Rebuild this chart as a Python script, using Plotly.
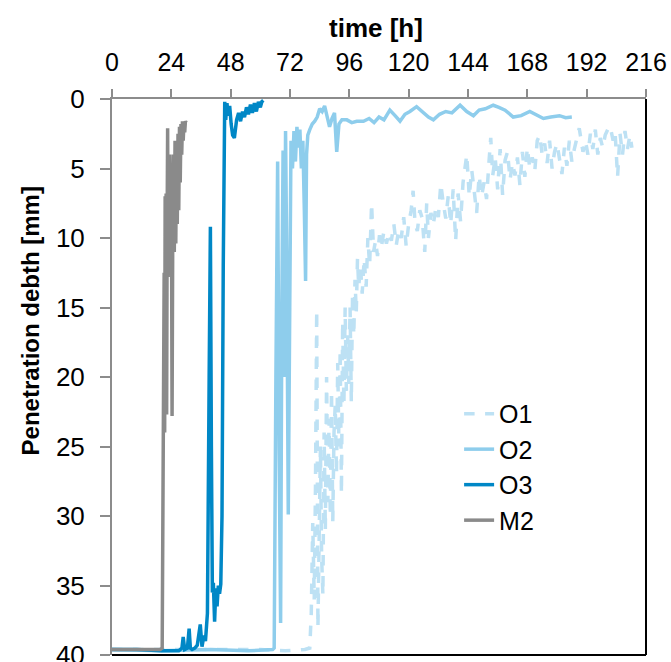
import plotly.graph_objects as go

# ---------------- data ----------------
x_ticks = [0, 24, 48, 72, 96, 120, 144, 168, 192, 216]
y_ticks = [0, 5, 10, 15, 20, 25, 30, 35, 40]

m2_time = [0, 5, 10, 15, 19.5, 20.3, 20.6, 20.9, 21.1, 21.3, 21.5, 21.7, 21.9, 22.1,
           22.3, 22.5, 22.7, 22.9, 23.1, 23.4, 23.7, 24.0, 24.3, 24.6, 24.9, 25.2,
           25.5, 25.8, 26.1, 26.4, 26.7, 27.0, 27.3, 27.6, 27.9, 28.2, 28.5, 28.8,
           29.1, 29.4, 29.7, 30.0]
m2_depth = [39.6, 39.6, 39.6, 39.6, 39.6, 39.5, 29.0, 20.0, 12.5, 24.0, 7.0, 14.0, 6.8, 22.7,
            9.0, 2.1, 12.8, 6.0, 11.0, 4.0, 10.0, 5.0, 22.8, 8.0, 4.0, 11.0,
            3.0, 10.4, 3.2, 9.0, 2.5, 8.0, 2.0, 6.0, 1.8, 4.0, 1.6, 3.0,
            1.7, 2.4, 1.6, 1.7]

o3_time = [0, 10, 20, 27, 28.3, 28.8, 29.4, 30.5, 31.2, 31.7, 32.4, 33.5, 34.5, 35.2,
           35.7, 36.4, 37.2, 37.8, 38.6, 39.3, 39.8, 40.2, 40.6, 41.0, 41.5, 42.0,
           42.5, 43.0, 43.5, 44.0, 44.5, 45.0, 45.3, 45.6, 46.0, 46.5, 47.0, 47.6,
           48.2, 48.8, 49.5, 50.4, 51.2, 52.0, 52.8, 53.6, 54.4, 55.2, 56.0, 56.8,
           57.6, 58.4, 59.2, 60.0, 60.6, 61.2]
o3_depth = [39.6, 39.6, 39.7, 39.7, 39.5, 38.7, 39.6, 39.5, 38.1, 39.5, 39.6, 39.5, 39.3, 38.2,
            37.8, 39.4, 38.6, 39.0, 37.0, 20.0, 9.2, 25.0, 35.5, 34.8, 37.6, 35.2,
            36.5, 35.0, 35.6, 34.9, 30.0, 12.0, 1.0, 0.2, 1.5, 0.3, 1.2, 0.5,
            1.8, 2.6, 2.8, 1.5, 1.0, 1.6, 0.9, 1.3, 0.6, 1.1, 0.4, 1.0,
            0.3, 0.9, 0.2, 0.6, 0.2, 0.1]

o2_time = [0, 20, 40, 55, 65, 65.6, 66.3, 67.0, 67.6, 68.2, 68.7, 69.2, 69.7, 70.2,
           70.7, 71.3, 71.9, 72.4, 73.0, 73.6, 74.2, 74.8, 75.4, 76.0, 76.6, 77.2,
           77.8, 78.3, 78.7, 79.2, 80.0, 81.0, 82.0, 83.0, 84.0, 85.0, 86.0, 87.0,
           88.0, 89.0, 90.0, 90.9, 91.8, 93.0, 95.0, 97.0, 99.0, 101.7, 104.0, 106.0,
           108.0, 110.0, 112.4, 114.5, 116.5, 118.5, 120.5, 123.2, 125.5, 128.0, 130.0,
           132.5, 135.0, 137.5, 140.8, 143.5, 146.2, 148.5, 151.0, 154.2, 156.5, 159.0,
           162.3, 165.5, 169.0, 171.5, 174.5, 177.5, 181.0, 183.5, 186.0]
o2_depth = [39.6, 39.7, 39.6, 39.7, 39.6, 39.5, 20.0, 4.5, 25.0, 37.7, 15.0, 3.7, 20.0, 2.3,
            12.0, 29.9, 15.0, 3.0, 5.0, 2.3, 4.5, 2.0, 3.5, 2.2, 5.0, 3.0,
            8.0, 13.1, 4.0, 2.6, 2.2, 1.8, 1.6, 1.3, 0.7, 0.9, 0.5, 1.4,
            2.0, 1.4, 1.0, 3.8, 1.8, 1.5, 1.5, 1.7, 1.6, 1.6, 1.4, 1.7,
            1.3, 1.5, 0.8, 1.2, 1.6, 1.1, 0.9, 0.55, 0.9, 1.3, 1.5,
            1.1, 0.9, 1.0, 0.45, 0.9, 1.2, 0.8, 0.7, 0.45, 0.6, 0.8,
            1.3, 1.2, 0.9, 1.1, 1.4, 1.3, 1.2, 1.35, 1.3]

o1_time = [0, 20, 40, 60, 70, 78, 80.0, 80.6, 81.2, 81.8, 82.3, 82.8, 83.3, 83.8, 84.3,
           84.8, 85.3, 85.8, 86.3, 86.8, 87.3, 87.8, 88.3, 88.8, 89.3, 89.8, 90.3,
           90.8, 91.3, 91.8, 92.3, 92.8, 93.3, 93.8, 94.3, 94.8, 95.3, 95.8, 96.3,
           96.8, 97.3, 97.8, 98.3, 98.8, 99.3, 99.8, 100.5, 101.2, 102.0, 102.8,
           103.5, 104.2, 105.0, 105.8, 106.6, 107.4, 108.2, 109.0, 110.0, 111.0,
           112.0, 113.0, 114.0, 115.0, 116.0, 117.0, 118.0, 119.0, 120.0, 121.0,
           121.8, 122.6, 123.5, 124.5, 125.5, 126.5, 127.3, 128.0, 129.0, 130.0,
           131.0, 132.0, 133.0, 134.0, 135.0, 136.0, 137.0, 138.0, 139.0, 140.0,
           141.0, 142.0, 143.5, 144.5, 145.5, 146.5, 147.5, 148.5, 149.5, 150.5,
           151.5, 152.5, 153.2, 154.0, 155.0, 156.0, 157.0, 158.0, 159.0, 160.0,
           161.0, 162.0, 163.0, 164.0, 165.0, 166.0, 167.0, 168.0, 169.0, 170.0,
           171.0, 172.0, 173.0, 174.0, 175.0, 176.0, 177.0, 178.0, 179.0, 180.0,
           181.0, 182.0, 183.0, 184.0, 185.0, 186.0, 187.0, 188.0, 189.0, 190.5,
           191.5, 192.5, 193.5, 194.5, 195.5, 196.5, 197.5, 198.5, 199.5, 200.5,
           201.5, 202.7, 203.5, 204.5, 205.5, 206.5, 207.5, 208.5, 209.5, 210.3, 211.0]
o1_depth = [39.6, 39.6, 39.6, 39.6, 39.7, 39.6, 39.5, 37.0, 30.5, 36.0, 28.0, 15.2, 38.0, 30.0, 25.0,
            33.0, 35.7, 24.0, 31.0, 20.0, 29.0, 23.0, 30.0, 21.0, 30.4, 24.0, 22.0,
            27.0, 19.0, 25.0, 18.0, 28.4, 16.0, 22.0, 15.0, 21.0, 17.0, 20.5, 15.0,
            21.8, 14.0, 17.0, 13.0, 15.4, 11.5, 13.5, 12.0, 14.0, 11.5, 13.5,
            10.0, 12.0, 7.5, 11.0, 10.2, 11.3, 9.8, 10.6, 9.5, 10.4, 9.6,
            10.2, 9.0, 10.5, 9.4, 10.0, 8.5, 10.6, 9.0, 8.0, 6.6, 9.0, 9.5,
            8.0, 8.6, 11.0, 7.5, 10.0, 8.2, 9.0, 7.8, 8.5, 6.1, 7.5, 8.6,
            7.0, 9.0, 6.5, 10.2, 6.8, 8.8, 6.0, 4.0, 7.0, 5.1, 6.6, 8.2, 5.5,
            7.0, 6.0, 7.2, 4.5, 2.8, 5.5, 4.2, 6.5, 3.6, 6.9, 4.4, 3.8, 5.8,
            4.6, 5.5, 4.2, 6.2, 3.8, 5.6, 3.5, 5.0, 4.2, 5.2, 3.0, 2.6, 4.0,
            3.2, 4.6, 3.0, 5.0, 3.8, 3.2, 4.4, 5.4, 3.5, 4.8, 3.0, 4.5, 3.6,
            2.8, 2.1, 3.8, 3.0, 4.0, 2.5, 3.6, 2.2, 4.0, 2.8, 3.5, 2.6, 2.2,
            1.95, 3.0, 2.4, 5.6, 2.5, 4.0, 2.3, 3.6, 2.6, 3.5]

series_names = ["O1", "O2", "O3", "M2"]
series_colors = ["#BDE1F4", "#8ECDEC", "#0087C6", "#8A8A8A"]

# ---------------- figure ----------------
fig = go.Figure()
data = [(o1_time, o1_depth), (o2_time, o2_depth), (o3_time, o3_depth), (m2_time, m2_depth)]
dashes = ["dash", "solid", "solid", "solid"]
widths = [3.5, 3.5, 3.5, 3.5]
for i, (name, (t, d)) in enumerate(zip(series_names, data)):
    fig.add_trace(go.Scatter(
        x=t, y=d, mode="lines", name=name, legendgroup=name,
        line=dict(color=series_colors[i], width=widths[i], dash=dashes[i]),
    ))

font_family = "Liberation Sans, Arial, sans-serif"

fig.update_layout(
    width=671, height=662,
    margin=dict(l=112, r=25, t=99, b=7),
    paper_bgcolor="white", plot_bgcolor="white",
    font=dict(family=font_family, size=25, color="black"),
    showlegend=True,
    legend=dict(
        x=0.65, y=0.475, xanchor="left", yanchor="top",
        bgcolor="rgba(0,0,0,0)", font=dict(size=25, family=font_family, color="black"),
        tracegroupgap=0, traceorder="grouped", itemwidth=30,
    ),
    xaxis=dict(
        side="top", range=[0, 216], tickvals=x_ticks, ticktext=[str(v) for v in x_ticks],
        showline=True, linecolor="#8C8C8C", linewidth=2,
        ticks="outside", ticklen=8, tickcolor="#8C8C8C", tickwidth=2,
        showgrid=False, zeroline=False, automargin=False, ticklabeloverflow="allow",
        tickfont=dict(size=25, family=font_family, color="black"), ticklabelstandoff=8,
    ),
    yaxis=dict(
        range=[40, 0], tickvals=y_ticks, ticktext=[str(v) for v in y_ticks],
        showline=True, linecolor="#8C8C8C", linewidth=2,
        ticks="outside", ticklen=10, tickcolor="#8C8C8C", tickwidth=2,
        showgrid=False, zeroline=False, automargin=False, ticklabeloverflow="allow",
        tickfont=dict(size=26, family=font_family, color="black"), ticklabelstandoff=10,
    ),
    shapes=[
        dict(type="line", xref="paper", yref="paper", x0=1, x1=1, y0=0, y1=1,
             line=dict(color="black", width=2)),
        dict(type="line", xref="paper", yref="paper", x0=0, x1=1, y0=0, y1=0,
             line=dict(color="black", width=2)),
    ],
    annotations=[
        dict(text="<b>time [h]</b>", xref="paper", yref="paper", x=0.495, y=1,
             yshift=71, showarrow=False, xanchor="center", yanchor="middle",
             font=dict(size=26, family=font_family, color="black")),
        dict(text="<b>Penetration debth [mm]</b>", xref="paper", yref="paper",
             x=0, xshift=-82, y=0.6, textangle=-90, showarrow=False,
             xanchor="center", yanchor="middle",
             font=dict(size=24, family=font_family, color="black")),
    ],
)

fig.write_html("out.html", config={"displayModeBar": False},
               post_script="document.body.style.margin='0';document.body.style.padding='0';")
